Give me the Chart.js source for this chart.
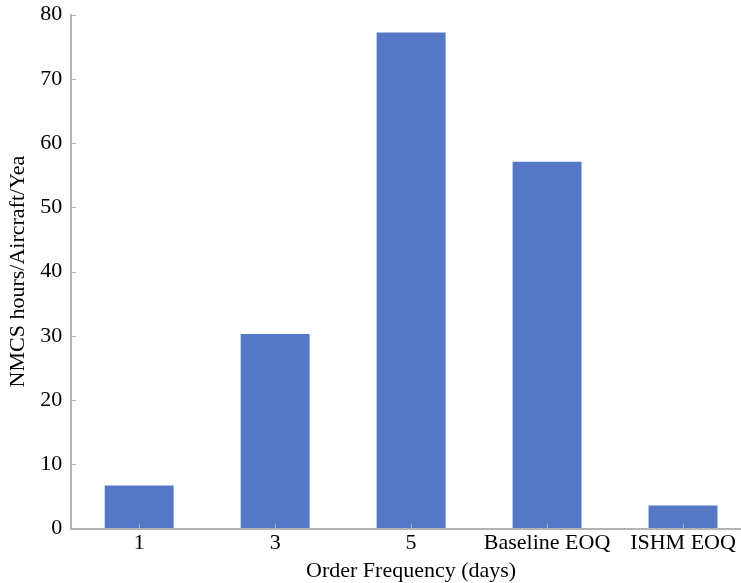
<!DOCTYPE html>
<html>
<head>
<meta charset="utf-8">
<script src="https://cdn.jsdelivr.net/npm/chart.js@4/dist/chart.umd.min.js"></script>
<style>
  html, body { margin: 0; padding: 0; background: #fff; }
  #wrap { width: 741px; height: 583px; overflow: hidden; }
  #holder { width: 752px; height: 583px; }
</style>
</head>
<body>
<div id="wrap"><div id="holder"><canvas id="chart"></canvas></div></div>
<script>
  // data
  const categories = ['1', '3', '5', 'Baseline EOQ', 'ISHM EOQ'];
  const hoursPerYear = [6.7, 30.3, 77.2, 57.1, 3.6];
  const yTicks = [0, 10, 20, 30, 40, 50, 60, 70, 80];

  const axisGrey = '#b3b3b3';
  const serif = "'Liberation Serif', 'Times New Roman', serif";

  // small tick marks pointing into the plot, like the original
  const innerTicks = {
    id: 'innerTicks',
    afterDraw(chart) {
      const { ctx, scales: { x, y } } = chart;
      ctx.save();
      ctx.strokeStyle = axisGrey;
      ctx.lineWidth = 1;
      ctx.beginPath();
      yTicks.forEach(v => {
        if (v === 0) return;
        const py = Math.round(y.getPixelForValue(v)) + 0.5;
        ctx.moveTo(x.left, py);
        ctx.lineTo(x.left + 5, py);
      });
      categories.forEach((c, i) => {
        const px = Math.round(x.getPixelForValue(i)) + 0.5;
        ctx.moveTo(px, y.bottom);
        ctx.lineTo(px, y.bottom - 5);
      });
      ctx.stroke();
      ctx.restore();
    }
  };

  const ctx = document.getElementById('chart').getContext('2d');
  new Chart(ctx, {
    type: 'bar',
    data: {
      labels: categories,
      datasets: [{
        label: 'NMCS hours',
        data: hoursPerYear,
        backgroundColor: '#5577c6',
        categoryPercentage: 1,
        barPercentage: 0.507
      }]
    },
    options: {
      responsive: true,
      maintainAspectRatio: false,
      animation: false,
      layout: { padding: { top: 6, right: 1, bottom: 0, left: 6 } },
      scales: {
        x: {
          grid: { drawOnChartArea: false, drawTicks: false },
          border: { color: axisGrey, width: 2 },
          ticks: { color: '#000', font: { family: serif, size: 22, lineHeight: 1.1 }, padding: 3, maxRotation: 0, autoSkip: false },
          title: { display: true, text: 'Order Frequency (days)', color: '#000', font: { family: serif, size: 22, lineHeight: 1.1 }, padding: { top: 0, bottom: 0 } }
        },
        y: {
          min: 0,
          max: 80,
          afterBuildTicks: axis => { axis.ticks = yTicks.map(v => ({ value: v })); },
          grid: { drawOnChartArea: false, drawTicks: false },
          border: { color: axisGrey, width: 2 },
          ticks: { color: '#000', font: { family: serif, size: 22, lineHeight: 0.5 }, padding: 9 },
          title: { display: true, text: 'NMCS hours/Aircraft/Yea', color: '#000', font: { family: serif, size: 22, lineHeight: 1.1 }, padding: { top: 0, bottom: 1 } }
        }
      },
      plugins: {
        legend: { display: false },
        tooltip: { enabled: false }
      }
    },
    plugins: [innerTicks]
  });
</script>
</body>
</html>
